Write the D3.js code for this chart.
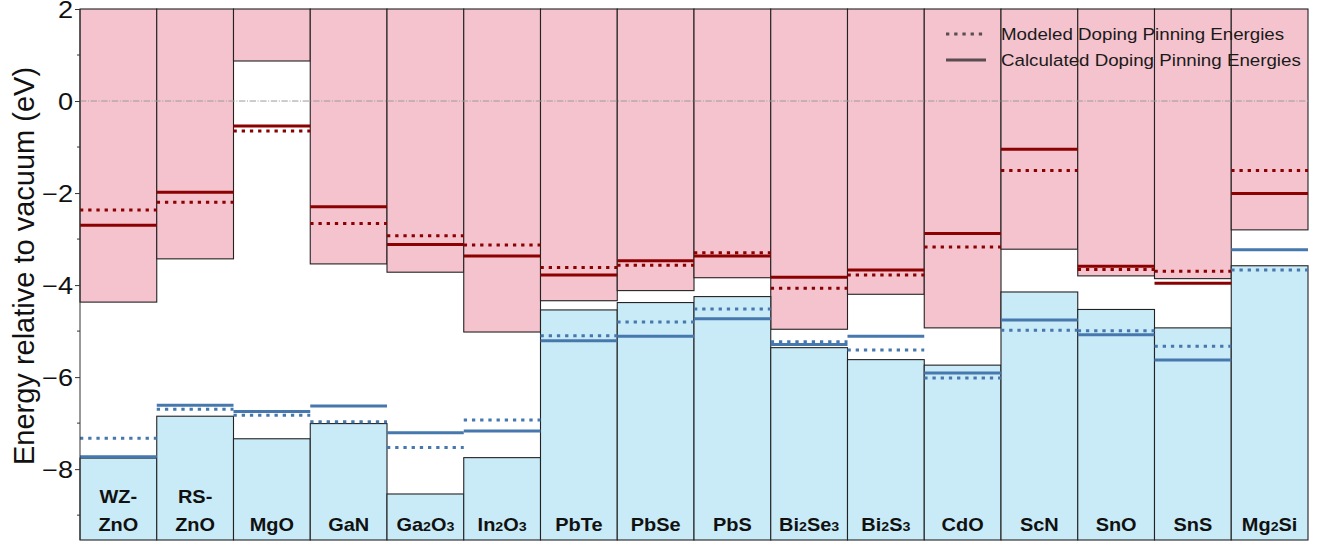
<!DOCTYPE html>
<html>
<head>
<meta charset="utf-8">
<script src="https://cdn.jsdelivr.net/npm/d3@7"></script>
<style>
  html, body { margin: 0; padding: 0; background: #fff; }
  svg { display: block; font-family: "Liberation Sans", Arial, Helvetica, sans-serif; }
</style>
</head>
<body>
<svg id="chart" width="1323" height="541"></svg>
<script>
// ---- data ----
const materials = ["WZ-ZnO", "RS-ZnO", "MgO", "GaN", "Ga2O3", "In2O3", "PbTe", "PbSe", "PbS",
                   "Bi2Se3", "Bi2S3", "CdO", "ScN", "SnO", "SnS", "Mg2Si"];
const cbm       = [-4.37, -3.43, 0.87, -3.54, -3.72, -5.02, -4.34, -4.12, -3.84, -4.96, -4.20, -4.93, -3.22, -3.80, -3.86, -2.80];
const vbm       = [-7.76, -6.85, -7.34, -7.01, -8.54, -7.75, -4.54, -4.38, -4.25, -5.36, -5.62, -5.74, -4.15, -4.53, -4.93, -3.58];
const calcN     = [-2.70, -1.98, -0.54, -2.30, -3.12, -3.37, -3.78, -3.47, -3.37, -3.83, -3.67, -2.88, -1.05, -3.59, -3.96, -2.01];
const modelN    = [-2.37, -2.20, -0.65, -2.66, -2.93, -3.13, -3.62, -3.57, -3.30, -4.07, -3.78, -3.17, -1.51, -3.66, -3.70, -1.51];
const calcP     = [-7.73, -6.61, -6.75, -6.63, -7.21, -7.17, -5.21, -5.11, -4.73, -5.29, -5.11, -5.91, -4.76, -5.08, -5.63, -3.23];
const modelP    = [-7.33, -6.70, -6.83, -6.97, -7.53, -6.93, -5.10, -4.80, -4.52, -5.23, -5.41, -6.02, -4.98, -4.99, -5.33, -3.67];
const yTicks    = [2, 0, -2, -4, -6, -8];
const yMinor    = [1, -1, -3, -5, -7, -9];
const legendLabels = ["Modeled Doping Pinning Energies", "Calculated Doping Pinning Energies"];
const yTitle = "Energy relative to vacuum (eV)";
const yDomain = [-9.54, 2];

// ---- layout ----
const svg = d3.select("#chart");
const mLeft = 80, mRight = 1308, mTop = 9, mBottom = 540;
const x = d3.scaleBand().domain(materials).range([mLeft, mRight]).padding(0);
const y = d3.scaleLinear().domain(yDomain).range([mBottom, mTop]);
const SX = 1.14; // horizontal glyph stretch seen in the reference

const pink = "#f5c3ce", blue = "#c9ebf7";
const red = "#8b0000", steel = "#4677ad";

const rows = materials.map((m, i) => ({ m, cbm: cbm[i], vbm: vbm[i], cn: calcN[i], mn: modelN[i], cp: calcP[i], mp: modelP[i] }));

// conduction (pink) bars
svg.append("g").selectAll("rect").data(rows).join("rect")
  .attr("x", d => x(d.m)).attr("width", x.bandwidth())
  .attr("y", y(yDomain[1])).attr("height", d => y(d.cbm) - y(yDomain[1]))
  .attr("fill", pink).attr("stroke", "#222").attr("stroke-width", 1.1);

// valence (blue) bars
svg.append("g").selectAll("rect").data(rows).join("rect")
  .attr("x", d => x(d.m)).attr("width", x.bandwidth())
  .attr("y", d => y(d.vbm)).attr("height", d => y(yDomain[0]) - y(d.vbm))
  .attr("fill", blue).attr("stroke", "#222").attr("stroke-width", 1.1);

// zero line
svg.append("line")
  .attr("x1", mLeft).attr("x2", mRight).attr("y1", y(0)).attr("y2", y(0))
  .attr("stroke", "#9a9a9a").attr("stroke-width", 1).attr("stroke-dasharray", "6.4,1.6,1,1.6");

// pinning lines
function drawLines(key, color, dashed) {
  svg.append("g").selectAll("line").data(rows).join("line")
    .attr("x1", d => x(d.m)).attr("x2", d => x(d.m) + x.bandwidth())
    .attr("y1", d => y(d[key])).attr("y2", d => y(d[key]))
    .attr("stroke", color).attr("stroke-width", 3)
    .attr("stroke-dasharray", dashed ? "3.3,4.9" : null);
}
drawLines("mn", red, true);
drawLines("cn", red, false);
drawLines("mp", steel, true);
drawLines("cp", steel, false);

// category labels
const lab = svg.append("g").attr("font-weight", "bold").attr("font-size", 17.5).attr("fill", "#111").attr("text-anchor", "middle");
rows.forEach(d => {
  const cx = x(d.m) + x.bandwidth() / 2;
  const parts = d.m.includes("-") ? [d.m.split("-")[0] + "-", d.m.split("-")[1]] : [d.m];
  parts.forEach((p, k) => {
    const t = lab.append("text")
      .attr("transform", `translate(${cx},${531 - (parts.length - 1 - k) * 28}) scale(${SX},1)`);
    const tokens = p.match(/[0-9]+|[^0-9]+/g);
    tokens.forEach(tok => {
      if (/^[0-9]+$/.test(tok)) t.append("tspan").attr("font-size", 12.5).text(tok);
      else t.append("tspan").text(tok);
    });
  });
});

// y axis
const ax = svg.append("g").attr("transform", `translate(${mLeft},0)`)
  .call(d3.axisLeft(y).tickValues(yTicks).tickSize(5).tickFormat(""));
ax.select(".domain").attr("stroke", "#333").attr("d", `M0,${mTop}V${mBottom}`);
ax.selectAll(".tick line").attr("stroke", "#333");
svg.append("g").selectAll("text").data(yTicks).join("text")
  .attr("transform", d => `translate(73,${y(d) + 8.5}) scale(1.18,1)`)
  .attr("text-anchor", "end").attr("font-size", 23).attr("fill", "#111")
  .text(d => d < 0 ? "\u2212" + Math.abs(d) : String(d));
svg.append("g").selectAll("line").data(yMinor).join("line")
  .attr("x1", mLeft - 3).attr("x2", mLeft).attr("y1", d => y(d)).attr("y2", d => y(d))
  .attr("stroke", "#333").attr("stroke-width", 1);

svg.append("text")
  .attr("transform", `translate(34,266) rotate(-90)`)
  .attr("text-anchor", "middle").attr("font-size", 29).attr("fill", "#111")
  .text(yTitle);

// legend
const lg = svg.append("g");
legendLabels.forEach((t, i) => {
  const ly = 34 + i * 26;
  lg.append("line").attr("x1", 946).attr("x2", 986).attr("y1", ly).attr("y2", ly)
    .attr("stroke", "#5a4c50").attr("stroke-width", 3)
    .attr("stroke-dasharray", i === 0 ? "3.3,4.9" : null);
  lg.append("text").attr("transform", `translate(1001,${ly + 6}) scale(1.15,1)`)
    .attr("font-size", 16.3).attr("fill", "#1a1a1a").text(t);
});
</script>
</body>
</html>
